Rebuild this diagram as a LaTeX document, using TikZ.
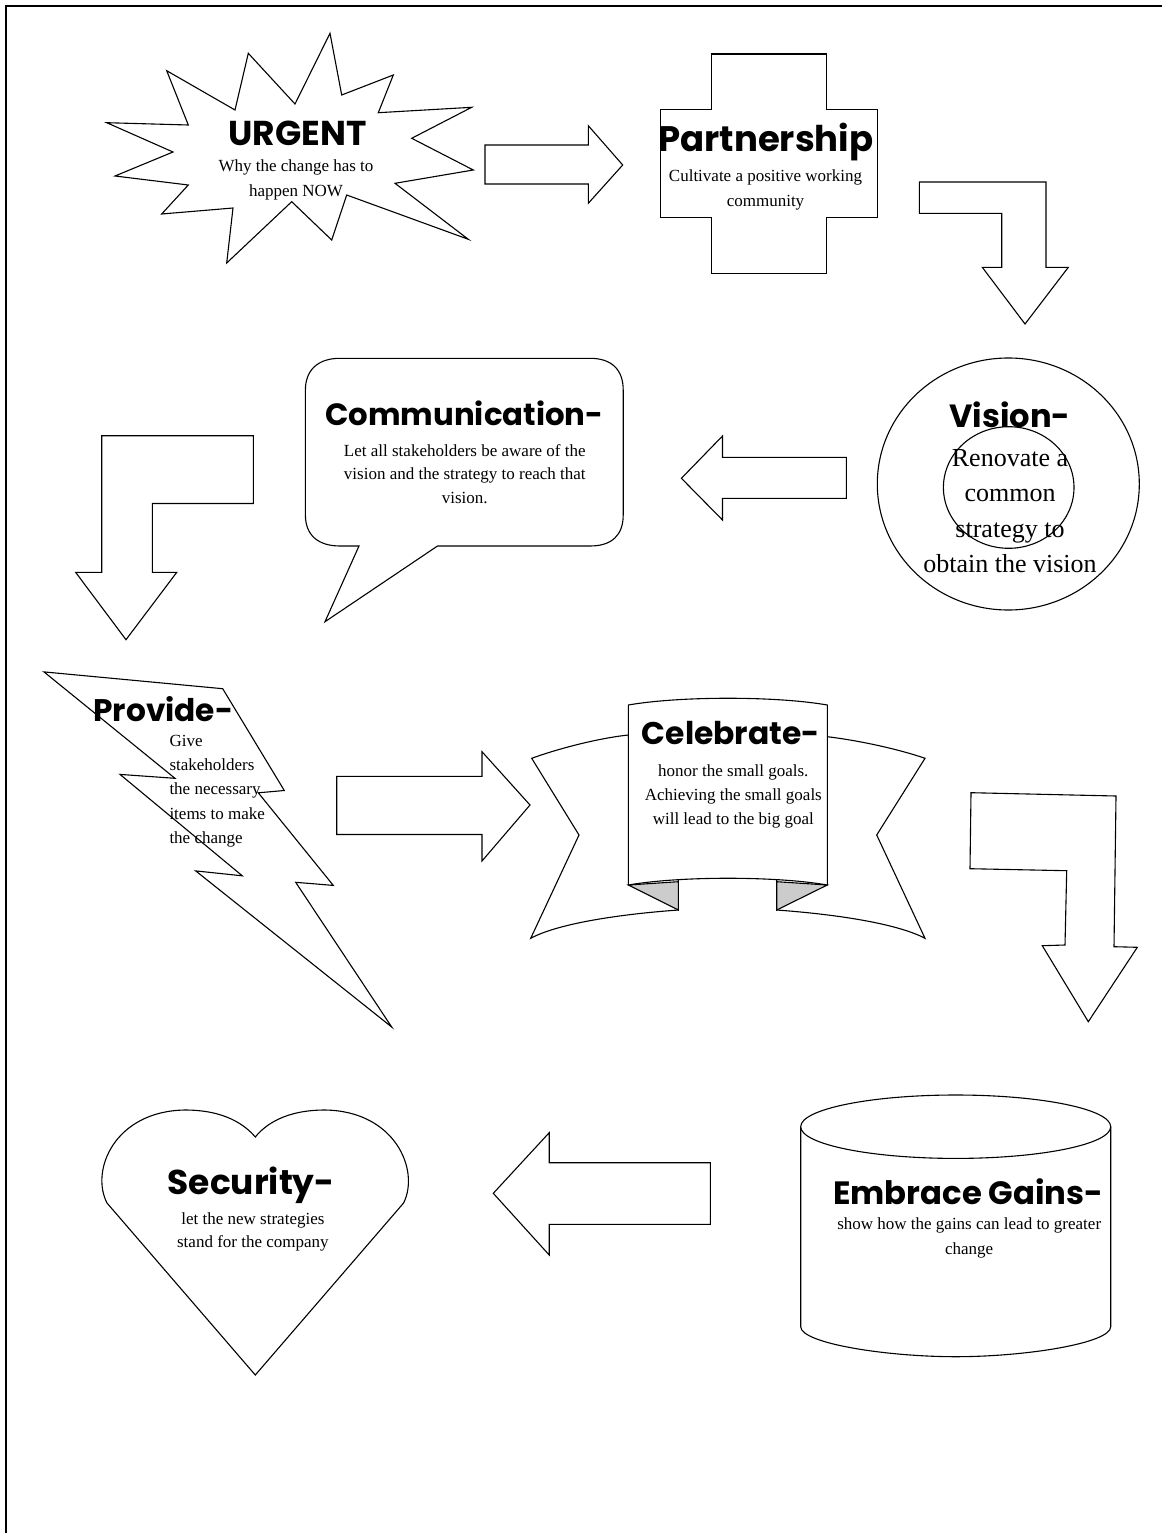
\documentclass[tikz,border=0pt]{standalone}
\usepackage{fontspec}
\usepackage{graphicx}
\setmainfont{Liberation Serif}
\newfontfamily\ttlfont{Poppins}
\newcommand{\ttl}[2]{\resizebox{#1pt}{!}{\ttlfont\bfseries #2}}
\begin{document}
\begin{tikzpicture}[x=1pt,y=-1pt,
  shp/.style={draw=black,line width=1.1pt,fill=white,line join=miter},
  tab/.style={draw=black,line width=1.1pt,fill=black!20,line join=miter},
  body/.style={font=\fontsize{17}{24.5}\selectfont,align=center,inner sep=0pt},
  ttlnode/.style={inner sep=0pt}]
\useasboundingbox (0,0) rectangle (1162,1533);
% frame
\draw[line width=2pt] (6,1533) -- (6,6) -- (1162,6);

% URGENT star
\draw[shp] (106.7,122.7) -- (173,152) -- (115,176) -- (188.3,185) -- (161.7,214) -- (233,208) -- (226.7,263) -- (291.7,201.7) -- (331.7,240) -- (346.7,195) -- (468.3,239.3) -- (395,183.3) -- (473.3,170) -- (411.7,138.3) -- (471.7,107.3) -- (378.3,112.7) -- (393.3,75) -- (341.7,95) -- (330,33.3) -- (295,104) -- (248.3,53.3) -- (235,110) -- (166.7,70.7) -- (188.3,125) -- cycle;
\node[ttlnode] (urgentT) at (297.5,133.3) {\ttl{138}{URGENT}};
\node[body] (urgentB) at (296,180) {Why the change has to\\happen NOW};

% arrow 1
\draw[shp] (485,145) -- (588.3,145) -- (588.3,125.7) -- (622.7,165) -- (588.3,203.3) -- (588.3,184) -- (485,184) -- cycle;

% cross
\draw[shp] (711.7,54) -- (826.7,54) -- (826.7,109.3) -- (877.3,109.3) -- (877.3,217.7) -- (826.7,217.7) -- (826.7,273.3) -- (711.7,273.3) -- (711.7,217.7) -- (660.7,217.7) -- (660.7,109.3) -- (711.7,109.3) -- cycle;
\node[ttlnode] (partT) at (765.8,141.7) {\ttl{215}{Partnership}};
\node[body] (partB) at (765.5,190) {Cultivate a positive working\\community};

% bent arrow 1
\draw[shp] (919.3,182) -- (1046,182) -- (1046,267.3) -- (1068.3,267.3) -- (1025,324) -- (982.3,267.3) -- (1001.7,267.3) -- (1001.7,213.3) -- (919.3,213.3) -- cycle;

% vision
\draw[shp] (1008.3,484) ellipse [x radius=131, y radius=126];
\draw[line width=1.1pt] (1008.7,487.5) ellipse [x radius=65.3, y radius=60.8];
\node[ttlnode] (visT) at (1010,415) {\ttl{121}{Vision-}};
\node[inner sep=0pt,align=center,font=\fontsize{26}{35.5}\selectfont] (visB) at (1010,511) {Renovate a\\common\\strategy to\\obtain the vision};

% arrow 2 (left)
\draw[shp] (681.4,478.3) -- (722.5,436) -- (722.5,457.3) -- (846.4,457.3) -- (846.4,498.3) -- (722.5,498.3) -- (722.5,520) -- cycle;

% speech bubble
\draw[shp] (305.4,390) .. controls (305.4,370) and (318,358.3) .. (340,358.3) -- (590,358.3) .. controls (612,358.3) and (623.2,370) .. (623.2,390) -- (623.2,515) .. controls (623.2,535) and (612,546) .. (590,546) -- (437.5,546) -- (325,621.7) -- (359,546) -- (340,546) .. controls (318,546) and (305.4,535) .. (305.4,515) -- cycle;
\node[ttlnode] (comT) at (464.3,413.3) {\ttl{278}{Communication-}};
\node[body,font=\fontsize{17}{23.5}\selectfont] (comB) at (464.8,474) {Let all stakeholders be aware of the\\vision and the strategy to reach that\\vision.};

% bent arrow 2
\draw[shp] (101.7,435.7) -- (253.3,435.7) -- (253.3,503.5) -- (152.3,503.5) -- (152.3,572.4) -- (176.7,572.4) -- (126,639.7) -- (75.7,572.4) -- (101.7,572.4) -- cycle;

% lightning bolt
\draw[shp] (44,671.9) -- (222.7,688.7) -- (284.3,790.5) -- (258.3,792.8) -- (333.3,885.4) -- (295.7,882.3) -- (391.7,1027) -- (195.7,870.9) -- (242.3,875.8) -- (120,774.4) -- (175,778.3) -- cycle;
\node[ttlnode] (provT) at (163.3,709.4) {\ttl{140}{Provide-}};
\node[body,align=left,anchor=west,font=\fontsize{17}{24.4}\selectfont] (provB) at (169.3,791) {Give\\stakeholders\\the necessary\\items to make\\the change};

% arrow 3 (right)
\draw[shp] (336.7,776.4) -- (482,776.4) -- (482,751.7) -- (530,805) -- (482,861) -- (482,834.5) -- (336.7,834.5) -- cycle;

% banner
\draw[shp] (628.3,735) .. controls (600,738) and (560,748) .. (531.7,758.3) -- (579,835) -- (530.7,938.3) .. controls (555,925) and (610,915) .. (678.3,910) -- (678.3,860) -- (640,860) -- cycle;
\draw[shp] (827.3,736.7) .. controls (855,740) and (895,748) .. (925,758.3) -- (876.7,835) -- (925,938.3) .. controls (900,925) and (845,915) .. (776.7,910) -- (776.7,860) -- (815,860) -- cycle;
\draw[tab] (628.3,885) -- (678.3,910) -- (678.3,881.7) -- cycle;
\draw[tab] (827.3,885) -- (776.7,910) -- (776.7,881.7) -- cycle;
\draw[shp] (628.3,705) .. controls (680,696) and (776,696) .. (827.3,705) -- (827.3,885) .. controls (776,876) and (680,876) .. (628.3,885) -- cycle;
\node[ttlnode] (celT) at (730.8,733.3) {\ttl{178}{Celebrate-}};
\node[body,font=\fontsize{17}{24}\selectfont] (celB) at (733.3,796.5) {honor the small goals.\\Achieving the small goals\\will lead to the big goal};

% bent arrow 3
\draw[shp] (971,792.7) -- (1116,796) -- (1114,946.7) -- (1137.3,947.3) -- (1088.3,1021.7) -- (1042.3,945.7) -- (1065,945) -- (1066.7,870.7) -- (970,868.7) -- cycle;

% heart
\draw[shp] (255.3,1375) -- (107,1203) .. controls (90,1170) and (115,1111) .. (185,1110) .. controls (225,1110) and (245,1125) .. (255.3,1137) .. controls (265,1125) and (285,1110) .. (325,1110) .. controls (395,1111) and (420,1170) .. (403.6,1203) -- cycle;
\node[ttlnode] (secT) at (251.2,1185) {\ttl{167}{Security-}};
\node[body,font=\fontsize{17}{23}\selectfont] (secB) at (252.9,1232) {let the new strategies\\stand for the company};

% arrow 4 (left)
\draw[shp] (493.3,1193.3) -- (549.2,1132.7) -- (549.2,1162.7) -- (710.4,1162.7) -- (710.4,1224.3) -- (549.2,1224.3) -- (549.2,1255) -- cycle;

% cylinder
\draw[shp] (800.7,1126.7) -- (800.7,1326.7) .. controls (800.7,1343.3) and (886.1,1356.7) .. (955.7,1356.7) .. controls (1025.3,1356.7) and (1110.7,1343.3) .. (1110.7,1326.7) -- (1110.7,1126.7);
\draw[shp] (955.7,1126.7) ellipse [x radius=155, y radius=31.7];
\node[ttlnode] (embT) at (968.3,1191.7) {\ttl{270}{Embrace Gains-}};
\node[body,font=\fontsize{17}{25}\selectfont] (embB) at (969.2,1238) {show how the gains can lead to greater\\change};
\end{tikzpicture}
\end{document}
